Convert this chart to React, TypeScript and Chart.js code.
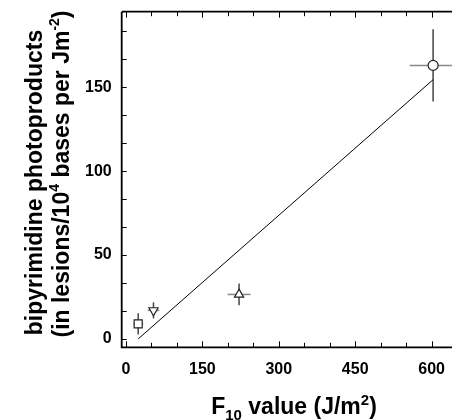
import React, { useEffect, useRef } from 'react';
import { Chart, registerables } from 'chart.js';

Chart.register(...registerables);

// ---- data ----
const markerNames = ['square', 'triangle-down', 'triangle-up', 'circle'];
const f10Values = [24, 54, 222, 603];
const f10Errors = [10, 11.5, 22.5, 46];
const photoproducts = [9, 17, 26.5, 163];
const photoproductErrors = [6.3, 4.8, 6.5, 21.5];
const markerStyles = ['rect', 'triangle', 'triangle', 'circle'];
const markerRotations = [0, 180, 0, 0];
const markerRadii = [5.7, 5.3, 5.3, 5];
const fitX = [24, 603];
const fitY = [0, 154.5];
const xTickValues = [0, 150, 300, 450, 600];
const yTickValues = [0, 50, 100, 150];
const xMinorStep = 50;
const yMinorStep = 50 / 3;

const FONT = 'Arial, "Liberation Sans", sans-serif';

function drawPieces(ctx: CanvasRenderingContext2D, pieces: { t: string; s: number; dy: number }[], cx: number) {
  let total = 0;
  for (const p of pieces) {
    ctx.font = `bold ${p.s}px ${FONT}`;
    total += ctx.measureText(p.t).width;
  }
  let x = cx - total / 2;
  for (const p of pieces) {
    ctx.font = `bold ${p.s}px ${FONT}`;
    ctx.fillText(p.t, x, p.dy);
    x += ctx.measureText(p.t).width;
  }
}

const framePlugin = {
  id: 'frameAndTitles',
  beforeDatasetsDraw(chart: any) {
    const { ctx, scales } = chart;
    const x = scales.x;
    const y = scales.y;
    ctx.save();
    ctx.lineWidth = 1.5;
    for (let i = 0; i < f10Values.length; i++) {
      const px = x.getPixelForValue(f10Values[i]);
      const py = y.getPixelForValue(photoproducts[i]);
      ctx.strokeStyle = '#444';
      ctx.beginPath();
      ctx.moveTo(px, y.getPixelForValue(photoproducts[i] + photoproductErrors[i]));
      ctx.lineTo(px, y.getPixelForValue(photoproducts[i] - photoproductErrors[i]));
      ctx.stroke();
      ctx.strokeStyle = '#888';
      ctx.beginPath();
      ctx.moveTo(x.getPixelForValue(f10Values[i] - f10Errors[i]), py);
      ctx.lineTo(x.getPixelForValue(f10Values[i] + f10Errors[i]), py);
      ctx.stroke();
    }
    ctx.restore();
  },
  afterDraw(chart: any) {
    const { ctx, chartArea, scales } = chart;
    const { left, right, top, bottom } = chartArea;
    const x = scales.x;
    const y = scales.y;
    ctx.save();
    ctx.strokeStyle = '#000';
    ctx.lineWidth = 1.8;
    ctx.beginPath();
    ctx.moveTo(left, top);
    ctx.lineTo(left, bottom);
    ctx.lineTo(right + 2, bottom);
    ctx.moveTo(left, top);
    ctx.lineTo(right + 2, top);
    ctx.stroke();

    ctx.lineWidth = 1;
    ctx.beginPath();
    for (let v = 0; v <= x.max + 0.001; v += xMinorStep) {
      const px = Math.round(x.getPixelForValue(v)) + 0.5;
      const major = xTickValues.includes(Math.round(v));
      const len = major ? 6 : 4.5;
      ctx.moveTo(px, bottom);
      ctx.lineTo(px, bottom - len);
      ctx.moveTo(px, top);
      ctx.lineTo(px, top + len);
    }
    for (let v = 0; v <= y.max + 0.001; v += yMinorStep) {
      const py = Math.round(y.getPixelForValue(v)) + 0.5;
      ctx.moveTo(left, py);
      ctx.lineTo(left + 5, py);
      ctx.moveTo(right, py);
      ctx.lineTo(right - 2, py);
    }
    ctx.stroke();

    ctx.fillStyle = '#000';
    ctx.textBaseline = 'alphabetic';
    ctx.textAlign = 'left';
    ctx.save();
    ctx.translate(0, 406);
    drawPieces(ctx, [
      { t: 'F', s: 23, dy: 0 },
      { t: '10', s: 15, dy: 6 },
      { t: ' value (J/m', s: 23, dy: 0 },
      { t: '2', s: 15, dy: -9 },
      { t: ')', s: 23, dy: 0 },
    ], 286);
    ctx.restore();

    ctx.save();
    ctx.translate(33.7, 174.5);
    ctx.rotate(-Math.PI / 2);
    drawPieces(ctx, [{ t: 'bipyrimidine photoproducts', s: 23, dy: 0 }], 0);
    ctx.restore();

    ctx.save();
    ctx.translate(60.5, 166);
    ctx.rotate(-Math.PI / 2);
    drawPieces(ctx, [
      { t: '(in lesions/10', s: 23, dy: 0 },
      { t: '4', s: 14, dy: -10 },
      { t: ' bases per Jm', s: 23, dy: 0 },
      { t: '-2', s: 14, dy: -10 },
      { t: ')', s: 23, dy: 0 },
    ], 0);
    ctx.restore();

    ctx.restore();
  },
};

export default function App() {
  const ref = useRef<HTMLCanvasElement | null>(null);
  useEffect(() => {
    if (!ref.current) return;
    const points = f10Values.map((v, i) => ({ x: v, y: photoproducts[i] }));
    const fit = fitX.map((v, i) => ({ x: v, y: fitY[i] }));
    const chart = new Chart(ref.current, {
      type: 'scatter',
      data: {
        datasets: [
          {
            type: 'line',
            label: 'fit',
            data: fit,
            borderColor: '#000',
            borderWidth: 1,
            pointRadius: 0,
            fill: false,
            order: 2,
          } as any,
          {
            label: 'cell lines',
            data: points,
            pointStyle: markerStyles as any,
            rotation: markerRotations as any,
            pointRadius: markerRadii as any,
            pointBackgroundColor: '#fff',
            pointBorderColor: '#222',
            pointBorderWidth: 1.2,
            order: 1,
          } as any,
        ],
      },
      options: {
        animation: false,
        responsive: false,
        devicePixelRatio: 1,
        layout: { autoPadding: false, padding: { top: 3.7, right: 0, left: 0, bottom: 0 } },
        plugins: { legend: { display: false }, tooltip: { enabled: false } },
        scales: {
          x: {
            type: 'linear',
            position: 'bottom',
            min: -8.4,
            max: 655.8,
            grid: { display: false, drawTicks: false },
            border: { display: false },
            ticks: { padding: 13, color: '#000', font: { family: FONT, size: 16, weight: 'bold' } },
            afterBuildTicks: (scale: any) => {
              scale.ticks = xTickValues.map((v) => ({ value: v }));
            },
            afterFit: (scale: any) => {
              scale.height = 412 - 339.3;
              scale.paddingLeft = 0;
              scale.paddingRight = 0;
            },
          },
          y: {
            type: 'linear',
            min: -5,
            max: 195,
            grid: { display: false, drawTicks: false },
            border: { display: false },
            ticks: { padding: 10, color: '#000', font: { family: FONT, size: 16, weight: 'bold' } },
            afterBuildTicks: (scale: any) => {
              scale.ticks = yTickValues.map((v) => ({ value: v }));
            },
            afterFit: (scale: any) => {
              scale.width = 113.7;
              scale.paddingTop = 0;
              scale.paddingBottom = 0;
            },
          },
        },
      } as any,
      plugins: [framePlugin],
    });
    return () => chart.destroy();
  }, []);
  return (
    <div style={{ width: 452, height: 412 }}>
      <canvas ref={ref} width={452} height={412} data-series={markerNames.join(',')} />
    </div>
  );
}
